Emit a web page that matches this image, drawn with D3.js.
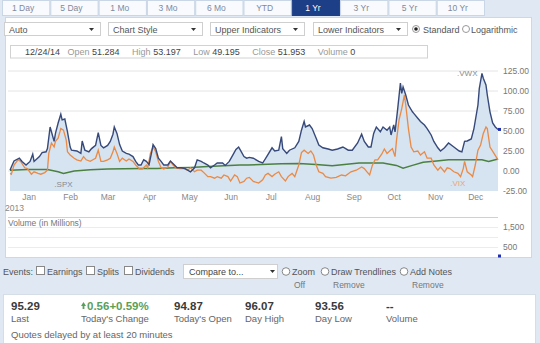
<!DOCTYPE html>
<html>
<head>
<meta charset="utf-8">
<script src="https://cdn.jsdelivr.net/npm/d3@7/dist/d3.min.js"></script>
<style>
  html, body { margin: 0; padding: 0; background: #dfe8f3; }
  svg { display: block; font-family: "Liberation Sans", Arial, sans-serif; }
</style>
</head>
<body>
<svg id="chart" width="540" height="343"></svg>
<script>
// ---- data -------------------------------------------------------------
const rangeTabs = ["1 Day", "5 Day", "1 Mo", "3 Mo", "6 Mo", "YTD", "1 Yr", "3 Yr", "5 Yr", "10 Yr"];
const activeTab = "1 Yr";
const menus = ["Auto", "Chart Style", "Upper Indicators", "Lower Indicators"];

const quoteDate = "12/24/14";
const quoteOpen = 51.284, quoteHigh = 53.197, quoteLow = 49.195, quoteClose = 51.953, quoteVolume = 0;

const priceTicks = [-25, 0, 25, 50, 75, 100, 125];
const volumeTicks = [500, 1500];
const volumeGrid = [500, 1000, 1500, 2000];

// % change series (blue = .VWX, orange = .VIX, green = .SPX)
const vwx = [
  ["2012-12-24",1],["2012-12-25",5],["2012-12-27",12.5],["2012-12-31",16],["2013-01-02",12],["2013-01-05",7.5],
  ["2013-01-08",12],["2013-01-10",21],["2013-01-11",12],["2013-01-15",18],["2013-01-17",23],["2013-01-20",24],
  ["2013-01-21",28],["2013-01-23",55],["2013-01-24",49],["2013-01-26",37],["2013-01-27",47],["2013-01-29",60],
  ["2013-01-31",71],["2013-02-01",64],["2013-02-03",65],["2013-02-05",49],["2013-02-07",30],["2013-02-08",26],
  ["2013-02-12",25],["2013-02-15",22],["2013-02-16",37.5],["2013-02-18",26],["2013-02-21",24],["2013-02-23",28],
  ["2013-02-26",32],["2013-02-28",48],["2013-03-02",32],["2013-03-04",29],["2013-03-07",32],["2013-03-09",37],
  ["2013-03-11",46],["2013-03-12",55],["2013-03-14",47],["2013-03-16",33],["2013-03-18",25],["2013-03-21",22],
  ["2013-03-23",21],["2013-03-26",18],["2013-03-28",12],["2013-03-30",7.5],["2013-04-01",7.5],["2013-04-03",14],
  ["2013-04-05",12],["2013-04-07",8],["2013-04-09",24],["2013-04-10",33],["2013-04-12",28],["2013-04-14",16],
  ["2013-04-16",12],["2013-04-18",7.5],["2013-04-21",7.5],["2013-04-23",12.5],["2013-04-26",7.5],["2013-04-28",4],
  ["2013-05-01",4],["2013-05-04",3],["2013-05-08",-1],["2013-05-11",4],["2013-05-13",14],["2013-05-16",12],
  ["2013-05-18",10],["2013-05-21",7.5],["2013-05-23",4],["2013-05-26",7.5],["2013-05-28",10],["2013-06-01",10],
  ["2013-06-03",7],["2013-06-06",12],["2013-06-08",18],["2013-06-11",27],["2013-06-13",30],["2013-06-14",27],
  ["2013-06-17",18],["2013-06-19",16],["2013-06-21",17],["2013-06-24",16],["2013-06-28",12],["2013-07-01",10],
  ["2013-07-04",18],["2013-07-08",29],["2013-07-10",25],["2013-07-13",26],["2013-07-15",43],["2013-07-16",28],
  ["2013-07-19",22],["2013-07-21",26],["2013-07-25",29],["2013-07-28",37],["2013-07-30",51],["2013-08-01",62],
  ["2013-08-02",55],["2013-08-05",57.5],["2013-08-07",53],["2013-08-10",41],["2013-08-12",32.5],["2013-08-15",29],
  ["2013-08-19",27.5],["2013-08-22",26],["2013-08-26",27.5],["2013-08-30",30],["2013-09-03",26],["2013-09-06",26],
  ["2013-09-10",35],["2013-09-13",46],["2013-09-15",37],["2013-09-18",30],["2013-09-20",30],["2013-09-22",47],
  ["2013-09-24",55],["2013-09-27",49],["2013-09-29",55],["2013-10-02",51],["2013-10-04",55],["2013-10-05",45],
  ["2013-10-07",57.5],["2013-10-08",49],["2013-10-10",78],["2013-10-12",110],["2013-10-13",97],["2013-10-14",105],
  ["2013-10-16",95],["2013-10-18",82.5],["2013-10-21",74],["2013-10-22",72],["2013-10-25",66],["2013-10-27",62],
  ["2013-10-30",57.5],["2013-11-01",53],["2013-11-04",45],["2013-11-06",37],["2013-11-09",29],["2013-11-11",25],
  ["2013-11-14",29],["2013-11-17",35],["2013-11-21",30],["2013-11-25",25],["2013-11-27",24],["2013-11-29",37],
  ["2013-12-01",37.5],["2013-12-04",40],["2013-12-06",53],["2013-12-09",82.5],["2013-12-10",103],["2013-12-12",122],
  ["2013-12-13",116],["2013-12-15",107.5],["2013-12-16",95],["2013-12-18",74],["2013-12-20",60],["2013-12-22",55],
  ["2013-12-24",quoteClose]
];

const vix = [
  ["2012-12-24",-3],["2012-12-25",-4],["2012-12-27",7.5],["2012-12-30",14],["2013-01-01",12],["2013-01-04",4],
  ["2013-01-06",3],["2013-01-09",-4],["2013-01-11",-1],["2013-01-14",-3],["2013-01-16",-4],["2013-01-19",-2],
  ["2013-01-21",1],["2013-01-22",22],["2013-01-24",35],["2013-01-26",30],["2013-01-27",37],["2013-01-29",41],
  ["2013-01-31",53],["2013-02-02",51],["2013-02-04",39],["2013-02-05",24],["2013-02-07",20],["2013-02-10",16],
  ["2013-02-12",14],["2013-02-15",12.5],["2013-02-17",18],["2013-02-19",14],["2013-02-22",12],["2013-02-24",14],
  ["2013-02-26",16],["2013-02-28",26],["2013-03-02",12],["2013-03-04",12],["2013-03-07",14],["2013-03-09",16],
  ["2013-03-11",24],["2013-03-12",30],["2013-03-14",22],["2013-03-16",12],["2013-03-18",16],["2013-03-21",12.5],
  ["2013-03-23",15],["2013-03-26",12],["2013-03-28",7.5],["2013-03-31",2.5],["2013-04-02",2.5],["2013-04-05",7.5],
  ["2013-04-06",4],["2013-04-08",22],["2013-04-10",30],["2013-04-12",24],["2013-04-14",12],["2013-04-16",4],
  ["2013-04-18",2.5],["2013-04-21",5],["2013-04-23",12],["2013-04-25",7.5],["2013-04-27",4],["2013-04-30",3],
  ["2013-05-03",3],["2013-05-06",1],["2013-05-08",4],["2013-05-11",-1],["2013-05-13",1],["2013-05-16",1],
  ["2013-05-18",-2],["2013-05-21",-7],["2013-05-23",-7],["2013-05-26",-9],["2013-05-28",-7],["2013-05-31",-9],
  ["2013-06-02",-5],["2013-06-05",-7],["2013-06-07",-12.5],["2013-06-10",-5],["2013-06-12",-7],["2013-06-14",-15],
  ["2013-06-17",-13],["2013-06-19",-9],["2013-06-21",-8],["2013-06-24",-13],["2013-06-28",-15],["2013-07-01",-11],
  ["2013-07-03",-5],["2013-07-05",-3],["2013-07-08",-7],["2013-07-10",-4],["2013-07-13",-1],["2013-07-15",-7],
  ["2013-07-18",-12.5],["2013-07-20",-7],["2013-07-23",-3],["2013-07-25",-7],["2013-07-28",7.5],["2013-07-30",23],
  ["2013-08-01",26],["2013-08-04",22],["2013-08-06",25],["2013-08-08",20],["2013-08-10",7.5],["2013-08-12",-1],
  ["2013-08-15",-3],["2013-08-17",-7],["2013-08-21",-9],["2013-08-25",-8],["2013-08-29",-5],["2013-09-01",-6],
  ["2013-09-05",-1],["2013-09-09",1],["2013-09-13",5],["2013-09-15",3],["2013-09-17",-1],["2013-09-19",-5],
  ["2013-09-21",7],["2013-09-23",14],["2013-09-25",14],["2013-09-28",21],["2013-09-30",27.5],["2013-10-02",22],
  ["2013-10-04",25],["2013-10-06",28],["2013-10-08",18],["2013-10-09",37],["2013-10-11",64],["2013-10-13",78],
  ["2013-10-15",95],["2013-10-16",82.5],["2013-10-18",53],["2013-10-20",30],["2013-10-22",24],["2013-10-25",25],
  ["2013-10-27",20],["2013-10-30",24],["2013-11-01",16],["2013-11-04",16],["2013-11-06",7.5],["2013-11-09",1],
  ["2013-11-11",5],["2013-11-14",-1],["2013-11-16",4],["2013-11-18",3],["2013-11-21",-1],["2013-11-24",-3],
  ["2013-11-26",-7],["2013-11-28",3],["2013-11-29",12],["2013-12-01",-1],["2013-12-04",-5],["2013-12-05",-7],
  ["2013-12-07",7.5],["2013-12-09",26],["2013-12-11",32.5],["2013-12-13",47],["2013-12-15",55],["2013-12-16",53],
  ["2013-12-18",30],["2013-12-21",22],["2013-12-24",14]
];

const spx = [
  ["2012-12-24",1],["2013-01-06",2],["2013-01-21",2],["2013-01-29",-1],["2013-02-02",-3],["2013-02-10",0],
  ["2013-02-22",1.5],["2013-03-07",2.5],["2013-04-01",3],["2013-04-13",3],["2013-04-26",4],["2013-05-08",4.5],
  ["2013-05-21",5.5],["2013-06-02",6.5],["2013-06-14",7.5],["2013-06-20",7.5],["2013-07-15",9],["2013-07-28",9.5],
  ["2013-08-10",8],["2013-08-22",6.5],["2013-09-11",10],["2013-09-29",10],["2013-10-09",7],["2013-10-14",3.5],
  ["2013-10-21",7],["2013-10-29",11],["2013-11-08",12.5],["2013-11-17",14],["2013-11-30",14],["2013-12-12",14],
  ["2013-12-17",12],["2013-12-24",15]
];

// series labels: [text, date, value, colour]
const seriesLabels = [
  [".VWX", "2013-12-01", 122, "#8a8a8a"],
  [".SPX", "2013-02-02", -16, "#8a8a8a"],
  [".VIX", "2013-11-24", -15, "#e9a57a"]
];

const statValues = ["95.29", "0.56+0.59%", "94.87", "96.07", "93.56", "--"];
const statLabels = ["Last", "Today's Change", "Today's Open", "Day High", "Day Low", "Volume"];

// ---- setup ------------------------------------------------------------
const parse = d3.timeParse("%Y-%m-%d");
const svg = d3.select("#chart");
const FONT = "'Liberation Sans', Arial, sans-serif";

// background
svg.append("rect").attr("x", 0).attr("y", 0).attr("width", 540).attr("height", 343).attr("fill", "#dfe8f3");

// range tabs
const tabW = 48.3;
const tabs = svg.append("g");
rangeTabs.forEach((t, i) => {
  const x0 = 2 + i * tabW;
  const on = t === activeTab;
  tabs.append("rect").attr("x", x0 + 0.5).attr("y", 0.5).attr("width", tabW - 1).attr("height", 15)
    .attr("fill", on ? "#1d3f87" : "#f8fafd").attr("stroke", on ? "#1d3f87" : "#c9d6e5");
  tabs.append("text").attr("x", x0 + tabW / 2 - 3).attr("y", 11).attr("text-anchor", "middle")
    .attr("font-size", 8.5).attr("fill", on ? "#ffffff" : "#7d8aa0").text(t);
});

// main white panel
svg.append("rect").attr("x", 5.5).attr("y", 17.5).attr("width", 526).attr("height", 240)
  .attr("fill", "#ffffff").attr("stroke", "#cbd8e6");

// dropdown menus
const menuX = [[4, 100], [108, 202], [210, 304], [313, 407]];
menus.forEach((m, i) => {
  const [a, b] = menuX[i];
  svg.append("rect").attr("x", a + 0.5).attr("y", 22.5).attr("width", b - a).attr("height", 13)
    .attr("fill", "#fff").attr("stroke", "#cfcfcf");
  svg.append("text").attr("x", a + 5).attr("y", 32.5).attr("font-size", 9).attr("fill", "#555").text(m);
  svg.append("path").attr("d", `M${b - 11},28 l5,0 l-2.5,3 z`).attr("fill", "#333");
});
// radio buttons: Standard / Logarithmic
svg.append("circle").attr("cx", 416).attr("cy", 29).attr("r", 3.5).attr("fill", "#fff").attr("stroke", "#999");
svg.append("circle").attr("cx", 416).attr("cy", 29).attr("r", 1.8).attr("fill", "#222");
svg.append("text").attr("x", 423).attr("y", 32.5).attr("font-size", 9).attr("fill", "#555").text("Standard");
svg.append("circle").attr("cx", 466).attr("cy", 29).attr("r", 3.5).attr("fill", "#fff").attr("stroke", "#999");
svg.append("text").attr("x", 471).attr("y", 32.5).attr("font-size", 9).attr("fill", "#555").text("Logarithmic");

// quote info box
svg.append("rect").attr("x", 10.5).attr("y", 45.5).attr("width", 417).attr("height", 12.5)
  .attr("fill", "#fff").attr("stroke", "#d2d2d2");
const info = svg.append("text").attr("x", 25).attr("y", 55).attr("font-size", 9);
const infoParts = [
  [quoteDate, "#444"], ["   Open ", "#999"], [quoteOpen.toFixed(3), "#444"],
  ["     High ", "#999"], [quoteHigh.toFixed(3), "#444"],
  ["     Low ", "#999"], [quoteLow.toFixed(3), "#444"],
  ["     Close ", "#999"], [quoteClose.toFixed(3), "#444"],
  ["     Volume ", "#999"], [String(quoteVolume), "#444"]
];
info.attr("xml:space", "preserve");
infoParts.forEach(([t, c]) => info.append("tspan").attr("fill", c).text(t));

// ---- price pane -------------------------------------------------------
const x = d3.scaleTime().domain([parse("2012-12-24"), parse("2013-12-24")]).range([10, 498]);
const y = d3.scaleLinear().domain([-25, 125]).range([191, 71]);

const plot = svg.append("g");
// horizontal grid
plot.selectAll("line.grid").data(priceTicks.filter(v => v > -25)).join("line")
  .attr("x1", 8).attr("x2", 498).attr("y1", d => y(d)).attr("y2", d => y(d))
  .attr("stroke", "#e4e4e4").attr("stroke-width", 1);

const pts = s => s.map(([d, v]) => ({ date: parse(d), v }));
const vwxP = pts(vwx), vixP = pts(vix), spxP = pts(spx);

// shaded area under .VWX
plot.append("path").datum(vwxP)
  .attr("d", d3.area().x(d => x(d.date)).y0(y(-25)).y1(d => y(d.v)))
  .attr("fill", "#d6e3f0");

const line = d3.line().x(d => x(d.date)).y(d => y(d.v));
plot.append("path").datum(spxP).attr("d", line).attr("fill", "none")
  .attr("stroke", "#4a8040").attr("stroke-width", 1.5);
plot.append("path").datum(vixP).attr("d", line).attr("fill", "none")
  .attr("stroke", "#ea8a45").attr("stroke-width", 1.3);
plot.append("path").datum(vwxP).attr("d", line).attr("fill", "none")
  .attr("stroke", "#36497a").attr("stroke-width", 1.4);

// last-value marker
const lastV = vwxP[vwxP.length - 1];
plot.append("rect").attr("x", x(lastV.date)).attr("y", y(lastV.v) - 1.5).attr("width", 3).attr("height", 3)
  .attr("fill", "#1f2fb5");

// series name labels
seriesLabels.forEach(([t, d, v, c]) => {
  plot.append("text").attr("x", x(parse(d))).attr("y", y(v) + 3).attr("text-anchor", "middle")
    .attr("font-size", 8).attr("fill", c).text(t);
});

// right axis
const yAxis = svg.append("g").attr("transform", "translate(498,0)")
  .call(d3.axisRight(y).tickValues(priceTicks).tickSize(0).tickPadding(5).tickFormat(d => d.toFixed(2)));
yAxis.select(".domain").remove();
yAxis.selectAll("text").attr("font-size", 8.5).attr("fill", "#777").attr("font-family", FONT);

// bottom axis
const xAxis = svg.append("g").attr("transform", "translate(0,191)")
  .call(d3.axisBottom(x).ticks(d3.timeMonth.every(1)).tickFormat(d3.timeFormat("%b")).tickSize(0).tickPadding(3));
xAxis.select(".domain").remove();
xAxis.selectAll("text").attr("dx", 8).attr("font-size", 8.5).attr("fill", "#888").attr("font-family", FONT);
svg.append("text").attr("x", 5).attr("y", 211).attr("font-size", 8.5).attr("fill", "#888").text("2013");

// ---- volume pane ------------------------------------------------------
const yv = d3.scaleLinear().domain([0, 2000]).range([257, 217]);
svg.selectAll("line.vgrid").data(volumeGrid).join("line")
  .attr("x1", 8).attr("x2", 498).attr("y1", d => yv(d) + 0.5).attr("y2", d => yv(d) + 0.5)
  .attr("stroke", d => d === 2000 ? "#d0d0d0" : "#ececec");
svg.append("text").attr("x", 8).attr("y", 226).attr("font-size", 8.5).attr("fill", "#777")
  .text("Volume (in Millions)");
const vAxis = svg.append("g").attr("transform", "translate(498,0)")
  .call(d3.axisRight(yv).tickValues(volumeTicks).tickSize(0).tickPadding(5).tickFormat(d3.format(",")));
vAxis.select(".domain").remove();
vAxis.selectAll("text").attr("font-size", 8.5).attr("fill", "#777").attr("font-family", FONT);
svg.append("rect").attr("x", x(lastV.date)).attr("y", yv(quoteVolume) - 2.5).attr("width", 3).attr("height", 3)
  .attr("fill", "#1f2fb5");

// ---- events / tools row -----------------------------------------------
const ev = svg.append("g").attr("font-size", 9).attr("fill", "#555");
ev.append("text").attr("x", 3).attr("y", 274.5).text("Events:");
[[36, "Earnings"], [86, "Splits"], [124, "Dividends"]].forEach(([cx, t]) => {
  ev.append("rect").attr("x", cx + 0.5).attr("y", 266.5).attr("width", 8).attr("height", 8)
    .attr("fill", "#fff").attr("stroke", "#888");
  ev.append("text").attr("x", cx + 11).attr("y", 274.5).text(t);
});
ev.append("rect").attr("x", 183.5).attr("y", 264.5).attr("width", 94).attr("height", 14)
  .attr("fill", "#fff").attr("stroke", "#cfcfcf");
ev.append("text").attr("x", 189).attr("y", 274.5).attr("fill", "#444").text("Compare to...");
ev.append("path").attr("d", "M270,270 l5,0 l-2.5,3 z").attr("fill", "#333");
[[286, "Zoom", "Off"], [325, "Draw Trendlines", "Remove"], [404, "Add Notes", "Remove"]].forEach(([cx, t, s]) => {
  ev.append("circle").attr("cx", cx).attr("cy", 271.5).attr("r", 3.8).attr("fill", "#fff").attr("stroke", "#888");
  ev.append("text").attr("x", cx + 6).attr("y", 274.5).text(t);
  ev.append("text").attr("x", cx + 8).attr("y", 288).attr("font-size", 8.5).attr("fill", "#777").text(s);
});

// ---- quote summary ----------------------------------------------------
svg.append("rect").attr("x", 3.5).attr("y", 294.5).attr("width", 532).attr("height", 50)
  .attr("fill", "#ffffff").attr("stroke", "#d5dde7");
const statX = [11, 81, 174, 245, 315, 386];
statValues.forEach((v, i) => {
  const isChange = i === 1;
  svg.append("text").attr("x", isChange ? statX[i] + 6 : statX[i]).attr("y", 310)
    .attr("font-size", 11.5).attr("font-weight", "bold")
    .attr("fill", isChange ? "#5aa05a" : "#3a3a3a").text(v);
  svg.append("text").attr("x", statX[i]).attr("y", 322).attr("font-size", 9.5).attr("fill", "#666").text(statLabels[i]);
});
// up arrow for today's change
svg.append("path").attr("d", `M${statX[1]},306 l2.5,-4 l2.5,4 z M${statX[1] + 1.6},306 h1.8 v3 h-1.8 z`).attr("fill", "#5aa05a");
svg.append("text").attr("x", 11).attr("y", 337.5).attr("font-size", 9.5).attr("fill", "#666")
  .text("Quotes delayed by at least 20 minutes");
</script>
</body>
</html>
